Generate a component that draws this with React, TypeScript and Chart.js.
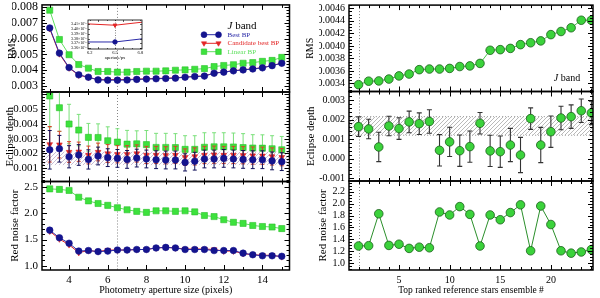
import React, { useEffect, useRef } from 'react';
import { Chart, registerables } from 'chart.js';
Chart.register(...registerables);

const FONT = "'Liberation Serif', 'Times New Roman', Times, serif";

// ---------------- Left column: photometry aperture size ----------------
const apertures = [3, 3.5, 4, 4.5, 5, 5.5, 6, 6.5, 7, 7.5, 8, 8.5, 9, 9.5, 10, 10.5, 11, 11.5, 12, 12.5, 13, 13.5, 14, 14.5, 15];
const seriesLabels = ['Best BP', 'Candidate best BP', 'Linear BP'];

const rmsBest = [0.00667, 0.00508, 0.00417, 0.00371, 0.00356, 0.00339, 0.003373, 0.003373, 0.003383, 0.00342, 0.00344, 0.00346, 0.00348, 0.0035, 0.00356, 0.0036, 0.00363, 0.00381, 0.00388, 0.00396, 0.00402, 0.00408, 0.00415, 0.00429, 0.00444];
const rmsCand = [0.00662, 0.00503, 0.00414, 0.00369, 0.00355, 0.003405, 0.0034115, 0.0034073, 0.003417, 0.00344, 0.00346, 0.00348, 0.0035, 0.00352, 0.00357, 0.00361, 0.00364, 0.00382, 0.00389, 0.00397, 0.00403, 0.00409, 0.00416, 0.0043, 0.00445];
const rmsLinear = [0.00779, 0.00594, 0.00498, 0.00436, 0.00413, 0.00392, 0.00392, 0.00388, 0.00388, 0.00392, 0.00394, 0.00394, 0.00396, 0.004, 0.00402, 0.00406, 0.0041, 0.00423, 0.0043, 0.00435, 0.00444, 0.00448, 0.00456, 0.00462, 0.00481];

const depthBest = [0.00225, 0.00232, 0.00178, 0.0019, 0.0016, 0.00183, 0.00172, 0.00167, 0.0016, 0.00169, 0.00163, 0.00158, 0.00156, 0.00156, 0.0014, 0.00148, 0.00163, 0.00163, 0.00167, 0.00163, 0.0016, 0.00158, 0.00158, 0.0015, 0.00145];
const depthBestErr = [0.0013, 0.0009, 0.00075, 0.0007, 0.00065, 0.0006, 0.0006, 0.0006, 0.0006, 0.0006, 0.0006, 0.0006, 0.0006, 0.0006, 0.00058, 0.0006, 0.0006, 0.0006, 0.0006, 0.0006, 0.0006, 0.0006, 0.0006, 0.0006, 0.0006];
const depthCand = [0.00262, 0.0026, 0.0021, 0.00212, 0.0019, 0.0021, 0.002, 0.00195, 0.00195, 0.002, 0.0019, 0.0019, 0.00188, 0.0019, 0.00175, 0.0018, 0.0019, 0.00192, 0.0019, 0.0019, 0.00188, 0.00186, 0.00185, 0.0018, 0.00175];
const depthCandErr = [0.0012, 0.0009, 0.0007, 0.00065, 0.0006, 0.0006, 0.0006, 0.00058, 0.00058, 0.00058, 0.00058, 0.00058, 0.00058, 0.00058, 0.00056, 0.00058, 0.00058, 0.00058, 0.00058, 0.00058, 0.00058, 0.00058, 0.00058, 0.00058, 0.00058];
const depthLinear = [0.00588, 0.00509, 0.00399, 0.00358, 0.00309, 0.00308, 0.00286, 0.00277, 0.00263, 0.00265, 0.0026, 0.00241, 0.00241, 0.0024, 0.00228, 0.00228, 0.00242, 0.00245, 0.00245, 0.00244, 0.0024, 0.00237, 0.00236, 0.00232, 0.00225];
const depthLinearErr = [0.0021, 0.0016, 0.00133, 0.00106, 0.00094, 0.00092, 0.00094, 0.0009, 0.00093, 0.00088, 0.00095, 0.00095, 0.00095, 0.00094, 0.00092, 0.00092, 0.00098, 0.00095, 0.00095, 0.00094, 0.00094, 0.0009, 0.0009, 0.00088, 0.0009];
const leftDepthBand = [0.00122, 0.00212];

const rnfBest = [1.68, 1.535, 1.43, 1.28, 1.29, 1.27, 1.28, 1.3, 1.3, 1.31, 1.31, 1.34, 1.35, 1.34, 1.31, 1.31, 1.31, 1.29, 1.29, 1.29, 1.24, 1.21, 1.19, 1.19, 1.18];
const rnfCand = [1.66, 1.51, 1.4, 1.25, 1.29, 1.27, 1.3, 1.3, 1.3, 1.31, 1.31, 1.34, 1.35, 1.34, 1.32, 1.32, 1.32, 1.31, 1.28, 1.28, 1.23, 1.21, 1.2, 1.2, 1.17];
const rnfLinear = [2.47, 2.46, 2.44, 2.31, 2.24, 2.19, 2.155, 2.11, 2.07, 2.04, 2.02, 2.05, 2.05, 2.04, 2.05, 2.03, 1.96, 1.94, 1.88, 1.83, 1.81, 1.77, 1.75, 1.74, 1.71];

const apertureTicks = [4, 6, 8, 10, 12, 14];
const leftRmsTicks = [0.003, 0.004, 0.005, 0.006, 0.007, 0.008];
const leftDepthTicks = [0.001, 0.002, 0.003, 0.004, 0.005];
const leftRnfTicks = [1.0, 1.5, 2.0, 2.5];
const chosenAperture = 6.5;

// inset (zoom around the chosen aperture)
const insetFrom = 6;
const insetTo = 9;
const insetXTicks = [6.2, 6.5, 6.8];
const insetYTicks = [0.00336, 0.00337, 0.00338, 0.00339, 0.0034, 0.00341];

// ---------------- Right column: reference ensembles ----------------
const ensembles = [1, 2, 3, 4, 5, 6, 7, 8, 9, 10, 11, 12, 13, 14, 15, 16, 17, 18, 19, 20, 21, 22, 23, 24];
const ensRms = [0.00338, 0.003436, 0.00344, 0.00347, 0.00352, 0.00355, 0.00362, 0.00363, 0.00363, 0.00364, 0.00367, 0.00368, 0.00372, 0.00393, 0.00394, 0.00396, 0.00402, 0.00405, 0.00408, 0.00418, 0.00423, 0.00429, 0.00441, 0.00441];
const ensDepth = [0.00164, 0.00152, 0.0006, 0.00167, 0.00154, 0.00188, 0.00179, 0.0019, 0.00043, 0.00086, 0.00041, 0.00062, 0.00181, 0.0004, 0.00036, 0.0007, 0.00019, 0.00205, 0.0007, 0.00138, 0.00208, 0.00215, 0.00245, 0.00234];
const ensDepthErr = [0.0005, 0.0005, 0.00075, 0.0005, 0.00055, 0.00055, 0.00055, 0.0006, 0.0008, 0.00075, 0.0008, 0.0008, 0.00055, 0.0008, 0.0008, 0.00085, 0.0009, 0.00055, 0.0009, 0.0008, 0.0006, 0.0006, 0.0006, 0.0006];
const ensRnf = [1.29, 1.295, 1.83, 1.3, 1.32, 1.25, 1.27, 1.26, 1.86, 1.81, 1.95, 1.82, 1.29, 1.81, 1.73, 1.85, 1.98, 1.21, 1.96, 1.65, 1.21, 1.17, 1.19, 1.23];
const ensDepthBand = [0.0012, 0.00215];

const ensembleTicks = [5, 10, 15, 20];
const rightRmsTicks = [0.0034, 0.0036, 0.0038, 0.004, 0.0042, 0.0044, 0.0046];
const rightDepthTicks = [-0.001, 0, 0.001, 0.002, 0.003];
const rightRnfTicks = [1.0, 1.2, 1.4, 1.6, 1.8, 2.0, 2.2];
const chosenEnsemble = 1;

// ---------------- colours ----------------
const BLUE = '#14148e';
const BLUE_LINE = '#2a2aa8';
const RED = '#e32626';
const GREEN = '#3de23d';
const GREEN_LINE = '#5fe05f';
const RGREEN = '#3bd23b';
const RGREEN_EDGE = '#1b5e1b';

const pts = (xs: number[], ys: number[]) => xs.map((x, i) => ({ x, y: ys[i] }));

// ---------------- plugins ----------------
function seq(min: number, max: number, step: number) {
  const out: number[] = [];
  const start = Math.ceil(min / step - 1e-6);
  for (let k = start; k * step <= max + step * 1e-6; k++) out.push(k * step);
  return out;
}
const isMajor = (v: number, step: number) => Math.abs(v / step - Math.round(v / step)) < 1e-4;

const framePlugin = {
  id: 'frame',
  afterDraw(chart: any, _a: any, o: any) {
    if (!o || !o.xMinor) return;
    const { ctx, chartArea: a } = chart;
    const xs = chart.scales.x;
    const ys = chart.scales.y;
    ctx.save();
    ctx.strokeStyle = '#000';
    ctx.lineWidth = o.tickWidth || 1;
    ctx.beginPath();
    for (const v of seq(xs.min, xs.max, o.xMinor)) {
      const len = isMajor(v, o.xMajor) ? o.major : o.minor;
      const px = Math.round(xs.getPixelForValue(v)) + 0.5;
      ctx.moveTo(px, a.bottom);
      ctx.lineTo(px, a.bottom - len);
      ctx.moveTo(px, a.top);
      ctx.lineTo(px, a.top + len);
    }
    for (const v of seq(ys.min, ys.max, o.yMinor)) {
      const len = isMajor(v, o.yMajor) ? o.major : o.minor;
      const py = Math.round(ys.getPixelForValue(v)) + 0.5;
      ctx.moveTo(a.left, py);
      ctx.lineTo(a.left + len, py);
      ctx.moveTo(a.right, py);
      ctx.lineTo(a.right - len, py);
    }
    ctx.stroke();
    ctx.lineWidth = o.borderWidth || 1.5;
    ctx.strokeRect(a.left, a.top, a.right - a.left, a.bottom - a.top);
    ctx.restore();
  },
};

const yTitlePlugin = {
  id: 'ytitle',
  afterDraw(chart: any, _a: any, o: any) {
    if (!o || !o.text) return;
    const { ctx, chartArea: a } = chart;
    ctx.save();
    ctx.translate(o.x, (a.top + a.bottom) / 2);
    ctx.rotate(-Math.PI / 2);
    ctx.font = `${o.size}px ${FONT}`;
    ctx.fillStyle = '#000';
    ctx.textAlign = 'center';
    ctx.textBaseline = 'middle';
    ctx.fillText(o.text, 0, 0);
    ctx.restore();
  },
};

function hatchPattern(ctx: CanvasRenderingContext2D, color: string, s: number) {
  const c = document.createElement('canvas');
  c.width = s;
  c.height = s;
  const g = c.getContext('2d')!;
  g.strokeStyle = color;
  g.lineWidth = 0.8;
  g.beginPath();
  g.moveTo(0, s);
  g.lineTo(s, 0);
  g.moveTo(-1, 1);
  g.lineTo(1, -1);
  g.moveTo(s - 1, s + 1);
  g.lineTo(s + 1, s - 1);
  g.stroke();
  return ctx.createPattern(c, 'repeat');
}

const bandPlugin = {
  id: 'band',
  beforeDatasetsDraw(chart: any, _a: any, o: any) {
    if (!o || o.low === undefined) return;
    const { ctx, chartArea: a } = chart;
    const ys = chart.scales.y;
    const y1 = ys.getPixelForValue(o.high);
    const y2 = ys.getPixelForValue(o.low);
    ctx.save();
    const p = hatchPattern(ctx, o.color, o.spacing);
    if (p) ctx.fillStyle = p;
    ctx.fillRect(a.left, y1, a.right - a.left, y2 - y1);
    if (o.edge) {
      ctx.strokeStyle = o.edge;
      ctx.lineWidth = 0.8;
      ctx.setLineDash([1, 2]);
      ctx.beginPath();
      ctx.moveTo(a.left, y1);
      ctx.lineTo(a.right, y1);
      ctx.moveTo(a.left, y2);
      ctx.lineTo(a.right, y2);
      ctx.stroke();
    }
    ctx.restore();
  },
};

const vlinePlugin = {
  id: 'vline',
  beforeDatasetsDraw(chart: any, _a: any, o: any) {
    if (!o || o.x === undefined) return;
    const { ctx, chartArea: a } = chart;
    const px = Math.round(chart.scales.x.getPixelForValue(o.x)) + 0.5;
    ctx.save();
    ctx.strokeStyle = o.color || '#666';
    ctx.lineWidth = o.width || 0.8;
    ctx.setLineDash(o.dash || [1, 2]);
    ctx.beginPath();
    ctx.moveTo(px, a.top);
    ctx.lineTo(px, a.bottom);
    ctx.stroke();
    ctx.restore();
  },
};

const errPlugin = {
  id: 'errbars',
  beforeDatasetDraw(chart: any, args: any) {
    const ds = chart.data.datasets[args.index];
    if (!ds || !ds.errors) return;
    const { ctx, chartArea: a } = chart;
    const ys = chart.scales.y;
    ctx.save();
    ctx.beginPath();
    ctx.rect(a.left, a.top, a.right - a.left, a.bottom - a.top);
    ctx.clip();
    ctx.strokeStyle = ds.errColor;
    ctx.lineWidth = ds.errWidth || 1;
    const cap = ds.errCap || 2;
    ctx.beginPath();
    args.meta.data.forEach((pt: any, i: number) => {
      const v = ds.data[i].y;
      const e = ds.errors[i];
      const yt = ys.getPixelForValue(v + e);
      const yb = ys.getPixelForValue(v - e);
      const x = pt.x;
      ctx.moveTo(x, yt);
      ctx.lineTo(x, yb);
      ctx.moveTo(x - cap, yt);
      ctx.lineTo(x + cap, yt);
      ctx.moveTo(x - cap, yb);
      ctx.lineTo(x + cap, yb);
    });
    ctx.stroke();
    ctx.restore();
  },
};

function drawMarker(ctx: CanvasRenderingContext2D, style: string, x: number, y: number, r: number, fill: string, stroke: string) {
  ctx.fillStyle = fill;
  ctx.strokeStyle = stroke;
  ctx.lineWidth = 0.6;
  ctx.beginPath();
  if (style === 'circle') {
    ctx.arc(x, y, r, 0, Math.PI * 2);
  } else if (style === 'triangle') {
    ctx.moveTo(x - r * 0.87, y - r * 0.5);
    ctx.lineTo(x + r * 0.87, y - r * 0.5);
    ctx.lineTo(x, y + r);
    ctx.closePath();
  } else {
    const s = r * Math.SQRT1_2;
    ctx.rect(x - s, y - s, 2 * s, 2 * s);
  }
  ctx.fill();
  ctx.stroke();
}

function drawJBand(ctx: CanvasRenderingContext2D, cx: number, cy: number, size: number) {
  ctx.save();
  ctx.fillStyle = '#000';
  ctx.textBaseline = 'middle';
  ctx.font = `italic ${size}px ${FONT}`;
  const wJ = ctx.measureText('J').width;
  ctx.font = `${size}px ${FONT}`;
  const wB = ctx.measureText(' band').width;
  const x0 = cx - (wJ + wB) / 2;
  ctx.font = `italic ${size}px ${FONT}`;
  ctx.fillText('J', x0, cy);
  ctx.font = `${size}px ${FONT}`;
  ctx.fillText(' band', x0 + wJ, cy);
  ctx.restore();
}

const leftLegendPlugin = {
  id: 'leftLegend',
  afterDraw(chart: any) {
    const ctx = chart.ctx as CanvasRenderingContext2D;
    drawJBand(ctx, 242, 26, 11);
    const rows = [34.7, 43.3, 51.7];
    ctx.save();
    chart.data.datasets.forEach((ds: any, i: number) => {
      const y = rows[i];
      ctx.strokeStyle = ds.borderColor;
      ctx.lineWidth = 1;
      ctx.beginPath();
      ctx.moveTo(204, y);
      ctx.lineTo(218.5, y);
      ctx.stroke();
      drawMarker(ctx, ds.pointStyle, 204, y, ds.pointRadius * 0.9, ds.backgroundColor, ds.pointBorderColor);
      drawMarker(ctx, ds.pointStyle, 218.5, y, ds.pointRadius * 0.9, ds.backgroundColor, ds.pointBorderColor);
      ctx.fillStyle = ds.borderColor;
      ctx.font = `7px ${FONT}`;
      ctx.textBaseline = 'middle';
      ctx.fillText(ds.label, 227.5, y);
    });
    ctx.restore();
  },
};

const rightBandLabelPlugin = {
  id: 'rightLabel',
  afterDraw(chart: any) {
    drawJBand(chart.ctx, 567, 78, 10);
  },
};

const whiteAreaPlugin = {
  id: 'whiteArea',
  beforeDraw(chart: any) {
    const { ctx, chartArea: a } = chart;
    ctx.save();
    ctx.fillStyle = '#fff';
    ctx.fillRect(a.left, a.top, a.right - a.left, a.bottom - a.top);
    ctx.restore();
  },
};

// ---------------- panel builder ----------------
type AxisSpec = {
  min: number;
  max: number;
  ticks: number[];
  fmt: (v: number) => string;
  font: number;
  pad?: number;
  title?: string;
  titleFont?: number;
  titlePad?: number;
  show?: boolean;
};
type PanelSpec = {
  box: [number, number, number, number];
  titleX?: number;
  xH: number;
  x: AxisSpec;
  y: AxisSpec;
  datasets: any[];
  plugins?: any;
  frame: any;
  extra?: any[];
};

function buildConfig(spec: PanelSpec): any {
  const [l, t, r, b] = spec.box;
  const showX = !!spec.x.show;
  const yW = 30;
  return {
    type: 'line',
    data: { datasets: spec.datasets },
    options: {
      responsive: false,
      maintainAspectRatio: false,
      animation: false,
      devicePixelRatio: 1,
      events: [],
      layout: { padding: { left: l - yW, top: t, right: 600 - r, bottom: 298 - b - (showX ? spec.xH : 0) } },
      plugins: {
        legend: { display: false },
        tooltip: { enabled: false },
        ...(spec.plugins || {}),
        frame: spec.frame,
        ytitle: spec.y.title ? { text: spec.y.title, x: spec.titleX, size: spec.y.titleFont || 10 } : {},
      },
      scales: {
        x: {
          type: 'linear',
          min: spec.x.min,
          max: spec.x.max,
          display: showX,
          grid: { display: false, drawTicks: false },
          border: { display: false },
          ticks: {
            font: { family: FONT, size: spec.x.font },
            color: '#000',
            padding: spec.x.pad !== undefined ? spec.x.pad : 4,
            maxRotation: 0,
            minRotation: 0,
            autoSkip: false,
            callback: (v: any) => spec.x.fmt(Number(v)),
          },
          afterBuildTicks: (s: any) => {
            s.ticks = spec.x.ticks.map((v) => ({ value: v }));
          },
          afterFit: (s: any) => {
            s.height = spec.xH;
            s.paddingLeft = 0;
            s.paddingRight = 0;
          },
          title: {
            display: !!spec.x.title,
            text: spec.x.title || '',
            font: { family: FONT, size: spec.x.titleFont || 10 },
            color: '#000',
            padding: { top: 0, bottom: spec.x.titlePad !== undefined ? spec.x.titlePad : 2 },
          },
        },
        y: {
          type: 'linear',
          min: spec.y.min,
          max: spec.y.max,
          grid: { display: false, drawTicks: false },
          border: { display: false },
          ticks: {
            font: { family: FONT, size: spec.y.font },
            color: '#000',
            padding: spec.y.pad !== undefined ? spec.y.pad : 4,
            autoSkip: false,
            callback: (v: any) => spec.y.fmt(Number(v)),
          },
          afterBuildTicks: (s: any) => {
            s.ticks = spec.y.ticks.map((v) => ({ value: v }));
          },
          afterFit: (s: any) => {
            s.width = yW;
            s.paddingTop = 0;
            s.paddingBottom = 0;
          },
          title: { display: false },
        },
      },
    },
    plugins: [framePlugin, bandPlugin, vlinePlugin, errPlugin, yTitlePlugin, ...(spec.extra || [])],
  };
}

// ---------------- dataset styles ----------------
function leftSets(best: number[], cand: number[], lin: number[], errs?: number[][]) {
  const base = { borderWidth: 1, pointBorderWidth: 0.6, tension: 0, fill: false, showLine: !errs };
  return [
    {
      ...base,
      label: seriesLabels[0],
      data: pts(apertures, best),
      borderColor: BLUE_LINE,
      backgroundColor: BLUE,
      pointBorderColor: BLUE,
      pointStyle: 'circle',
      pointRadius: 3.3,
      errors: errs ? errs[0] : undefined,
      errColor: '#10105a',
      errCap: 2,
      errWidth: 1,
    },
    {
      ...base,
      label: seriesLabels[1],
      data: pts(apertures, cand),
      borderColor: RED,
      backgroundColor: RED,
      pointBorderColor: RED,
      pointStyle: 'triangle',
      pointRotation: 180,
      pointRadius: 3.3,
      errors: errs ? errs[1] : undefined,
      errColor: '#d9402a',
      errCap: 2,
      errWidth: 1,
    },
    {
      ...base,
      label: seriesLabels[2],
      data: pts(apertures, lin),
      borderColor: GREEN_LINE,
      backgroundColor: GREEN,
      pointBorderColor: '#2cc02c',
      pointStyle: 'rect',
      pointRadius: 4.3,
      errors: errs ? errs[2] : undefined,
      errColor: '#7be07b',
      errCap: 2,
      errWidth: 1,
    },
  ];
}

function rightSet(vals: number[], lineColor: string, errs?: number[]) {
  return [
    {
      label: 'ensemble',
      data: pts(ensembles, vals),
      borderColor: lineColor,
      backgroundColor: RGREEN,
      pointBorderColor: RGREEN_EDGE,
      pointBorderWidth: 0.8,
      pointStyle: 'circle',
      pointRadius: 4.3,
      borderWidth: 1,
      tension: 0,
      showLine: !errs,
      errors: errs,
      errColor: '#333333',
      errCap: 2.5,
      errWidth: 1.1,
    },
  ];
}

const LX: [number, number] = [42, 289.5];
const RX: [number, number] = [349, 593];
const leftFrame = { xMajor: 2, xMinor: 1, major: 5, minor: 3 };
const rightFrame = { xMajor: 5, xMinor: 1, major: 5, minor: 3 };

const f3 = (v: number) => v.toFixed(3);
const f4 = (v: number) => v.toFixed(4);
const f1 = (v: number) => v.toFixed(1);
const f0 = (v: number) => String(Math.round(v));

function allSpecs(): PanelSpec[] {
  const lx = { min: 2.6, max: 15.4, ticks: apertureTicks, fmt: f0, font: 11 };
  const rx = { min: 0.06, max: 24.16, ticks: ensembleTicks, fmt: f0, font: 10 };
  return [
    // left top RMS
    {
      box: [LX[0], 4, LX[1], 92],
      titleX: 12,
      xH: 0,
      x: lx,
      y: { min: 0.002625, max: 0.008125, ticks: leftRmsTicks, fmt: f3, font: 12, pad: 4, title: 'RMS', titleFont: 10 },
      datasets: leftSets(rmsBest, rmsCand, rmsLinear),
      plugins: { vline: { x: chosenAperture } },
      frame: { ...leftFrame, yMajor: 0.001, yMinor: 0.0002 },
      extra: [leftLegendPlugin],
    },
    // left middle depth
    {
      box: [LX[0], 92, LX[1], 181.5],
      titleX: 10,
      xH: 0,
      x: lx,
      y: { min: 0.00011, max: 0.00615, ticks: leftDepthTicks, fmt: f3, font: 11, title: 'Eclipse depth', titleFont: 11 },
      datasets: leftSets(depthBest, depthCand, depthLinear, [depthBestErr, depthCandErr, depthLinearErr]),
      plugins: {
        vline: { x: chosenAperture },
        band: { low: leftDepthBand[0], high: leftDepthBand[1], color: '#b9a9c9', spacing: 4 },
      },
      frame: { ...leftFrame, yMajor: 0.001, yMinor: 0.0002 },
    },
    // left bottom red noise
    {
      box: [LX[0], 181.5, LX[1], 270],
      titleX: 15,
      xH: 28,
      x: { ...lx, show: true, title: 'Photometry aperture size (pixels)', titleFont: 10, pad: 4 },
      y: { min: 0.918, max: 2.611, ticks: leftRnfTicks, fmt: f1, font: 11, title: 'Red noise factor', titleFont: 11 },
      datasets: leftSets(rnfBest, rnfCand, rnfLinear),
      plugins: { vline: { x: chosenAperture } },
      frame: { ...leftFrame, yMajor: 0.5, yMinor: 0.1 },
    },
    // right top RMS
    {
      box: [RX[0], 4, RX[1], 91.5],
      titleX: 310,
      xH: 0,
      x: rx,
      y: { min: 0.003271, max: 0.004652, ticks: rightRmsTicks, fmt: f4, font: 10, title: 'RMS', titleFont: 10 },
      datasets: rightSet(ensRms, '#4cc24c'),
      plugins: { vline: { x: chosenEnsemble } },
      frame: { ...rightFrame, yMajor: 0.0002, yMinor: 0.00005 },
      extra: [rightBandLabelPlugin],
    },
    // right middle depth
    {
      box: [RX[0], 91.5, RX[1], 181],
      titleX: 311,
      xH: 0,
      x: rx,
      y: { min: -0.001138, max: 0.003434, ticks: rightDepthTicks, fmt: f3, font: 10, title: 'Eclipse depth', titleFont: 11 },
      datasets: rightSet(ensDepth, '#2b8f2b', ensDepthErr),
      plugins: {
        vline: { x: chosenEnsemble },
        band: { low: ensDepthBand[0], high: ensDepthBand[1], color: '#a8a8a8', spacing: 4, edge: '#888' },
      },
      frame: { ...rightFrame, yMajor: 0.001, yMinor: 0.0002 },
    },
    // right bottom red noise
    {
      box: [RX[0], 181, RX[1], 270],
      titleX: 323,
      xH: 28,
      x: { ...rx, show: true, title: 'Top ranked reference stars ensemble #', titleFont: 9.5, pad: 4 },
      y: { min: 0.888, max: 2.379, ticks: rightRnfTicks, fmt: f1, font: 10, title: 'Red noise factor', titleFont: 11 },
      datasets: rightSet(ensRnf, '#2b8f2b'),
      plugins: { vline: { x: chosenEnsemble } },
      frame: { ...rightFrame, yMajor: 0.2, yMinor: 0.05 },
    },
    // inset
    {
      box: [88, 20, 142, 49],
      xH: 13,
      x: {
        min: 6.18,
        max: 6.82,
        ticks: insetXTicks,
        fmt: f1,
        font: 4.5,
        pad: 1.5,
        show: true,
        title: 'aperture/px',
        titleFont: 4.5,
        titlePad: 1,
      },
      y: {
        min: 0.0033586,
        max: 0.003418,
        ticks: insetYTicks,
        fmt: (v: number) => (v * 1000).toFixed(2) + '×10⁻³',
        font: 4,
        pad: 1.5,
      },
      datasets: [
        {
          data: pts(apertures.slice(insetFrom, insetTo), rmsBest.slice(insetFrom, insetTo)),
          borderColor: BLUE_LINE,
          backgroundColor: BLUE,
          pointBorderColor: BLUE,
          pointStyle: 'circle',
          pointRadius: 2.2,
          borderWidth: 1,
        },
        {
          data: pts(apertures.slice(insetFrom, insetTo), rmsCand.slice(insetFrom, insetTo)),
          borderColor: RED,
          backgroundColor: RED,
          pointBorderColor: RED,
          pointStyle: 'triangle',
          pointRotation: 180,
          pointRadius: 2.2,
          borderWidth: 1,
        },
      ],
      plugins: { vline: { x: chosenAperture, dash: [1, 1.5] } },
      frame: { xMajor: 0.3, xMinor: 0.1, yMajor: 0.00001, yMinor: 0.00001, major: 2, minor: 1, borderWidth: 0.8, tickWidth: 0.6 },
      extra: [whiteAreaPlugin],
    },
  ];
}

export default function App() {
  const canvasRefs = useRef<(HTMLCanvasElement | null)[]>([]);
  const specCount = 7;

  useEffect(() => {
    const specs = allSpecs();
    const charts: Chart[] = [];
    specs.forEach((spec, i) => {
      const el = canvasRefs.current[i];
      if (el) charts.push(new Chart(el, buildConfig(spec)));
    });
    return () => {
      charts.forEach((c) => c.destroy());
    };
  }, []);

  return (
    <div style={{ position: 'fixed', left: 0, top: 0, width: 600, height: 298, background: '#fff', overflow: 'hidden' }}>
      {Array.from({ length: specCount }).map((_, i) => (
        <canvas
          key={i}
          ref={(el) => {
            canvasRefs.current[i] = el;
          }}
          width={600}
          height={298}
          style={{ position: 'absolute', left: 0, top: 0, width: 600, height: 298 }}
        />
      ))}
    </div>
  );
}
